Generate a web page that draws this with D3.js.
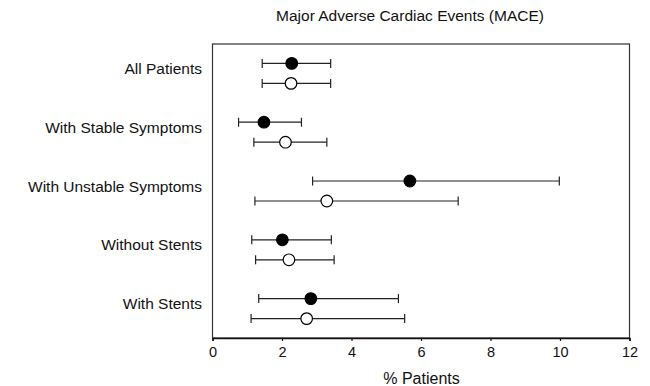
<!DOCTYPE html>
<html>
<head>
<meta charset="utf-8">
<script src="https://cdn.jsdelivr.net/npm/d3@7"></script>
<style>
    body { margin: 0; background: #fff; }
    text { font-family: "Liberation Sans", Arial, sans-serif; fill: #111; }
</style>
</head>
<body>
<div id="chart"></div>
<script>
// rows, top to bottom
const categories = ['All Patients', 'With Stable Symptoms', 'With Unstable Symptoms', 'Without Stents', 'With Stents'];

// filled markers (upper in each row)
const filledMid = [2.28, 1.48, 5.68, 2.01, 2.83];
const filledLow = [1.43, 0.75, 2.88, 1.13, 1.33];
const filledHigh = [3.40, 2.56, 9.98, 3.42, 5.35];

// open markers (lower in each row)
const openMid = [2.26, 2.10, 3.29, 2.20, 2.71];
const openLow = [1.43, 1.19, 1.22, 1.24, 1.11];
const openHigh = [3.40, 3.29, 7.07, 3.50, 5.53];

const xTicks = [0, 2, 4, 6, 8, 10, 12];

const width = 650;
const height = 386;
const margin = {top: 44, right: 20, bottom: 48, left: 212.5};

const x = d3.scaleLinear()
    .domain([0, 12])
    .range([margin.left, width - margin.right - 0.5]);

const y = d3.scaleBand()
    .domain(categories)
    .range([margin.top, height - margin.bottom]);

const svg = d3.select('#chart')
    .append('svg')
    .attr('width', width)
    .attr('height', height);

// frame
svg.append('rect')
    .attr('x', x(0))
    .attr('y', margin.top)
    .attr('width', x(12) - x(0))
    .attr('height', height - margin.bottom - margin.top)
    .attr('fill', 'none')
    .attr('stroke', '#333')
    .attr('stroke-width', 1.2);

const xAxis = d3.axisBottom(x)
    .tickValues(xTicks)
    .tickFormat(d3.format('d'))
    .tickSize(3)
    .tickPadding(6);

const gx = svg.append('g')
    .attr('transform', 'translate(0,' + (height - margin.bottom) + ')')
    .call(xAxis);
gx.select('.domain').attr('stroke', '#111').attr('stroke-width', 1.5);
gx.selectAll('.tick line').attr('stroke', '#111').attr('stroke-width', 1.2);
gx.selectAll('.tick text')
    .attr('font-size', 14.5)
    .attr('fill', '#111')
    .style('font-family', '"Liberation Sans", Arial, sans-serif');

// category labels
svg.append('g')
    .selectAll('text')
    .data(categories)
    .enter()
    .append('text')
    .attr('x', 202)
    .attr('y', (d) => y(d) + y.bandwidth() / 2 + 0.5)
    .attr('text-anchor', 'end')
    .attr('font-size', 15.5)
    .text((d) => d);

const offset = 10;
const cap = 4.5;

const series = [
    {mid: filledMid, low: filledLow, high: filledHigh, dy: -offset, fill: '#000'},
    {mid: openMid, low: openLow, high: openHigh, dy: offset, fill: '#fff'},
];

series.forEach((s) => {
    const rows = categories.map((c, i) => ({
        cy: y(c) + y.bandwidth() / 2 + s.dy,
        mid: s.mid[i],
        low: s.low[i],
        high: s.high[i],
    }));

    const g = svg.append('g');

    g.selectAll('.bar')
        .data(rows)
        .enter()
        .append('line')
        .attr('x1', (d) => x(d.low))
        .attr('x2', (d) => x(d.high))
        .attr('y1', (d) => d.cy)
        .attr('y2', (d) => d.cy)
        .attr('stroke', '#222')
        .attr('stroke-width', 1.2);

    ['low', 'high'].forEach((k) => {
        g.selectAll('.cap-' + k)
            .data(rows)
            .enter()
            .append('line')
            .attr('x1', (d) => x(d[k]))
            .attr('x2', (d) => x(d[k]))
            .attr('y1', (d) => d.cy - cap)
            .attr('y2', (d) => d.cy + cap)
            .attr('stroke', '#222')
            .attr('stroke-width', 1.2);
    });

    g.selectAll('circle')
        .data(rows)
        .enter()
        .append('circle')
        .attr('cx', (d) => x(d.mid))
        .attr('cy', (d) => d.cy)
        .attr('r', 5.8)
        .attr('fill', s.fill)
        .attr('stroke', '#000')
        .attr('stroke-width', 1.2);
});

// title and axis title
svg.append('text')
    .attr('x', 410)
    .attr('y', 21)
    .attr('text-anchor', 'middle')
    .attr('font-size', 15.5)
    .text('Major Adverse Cardiac Events (MACE)');

svg.append('text')
    .attr('x', 421.5)
    .attr('y', 384)
    .attr('text-anchor', 'middle')
    .attr('font-size', 16)
    .text('% Patients');
</script>
</body>
</html>
